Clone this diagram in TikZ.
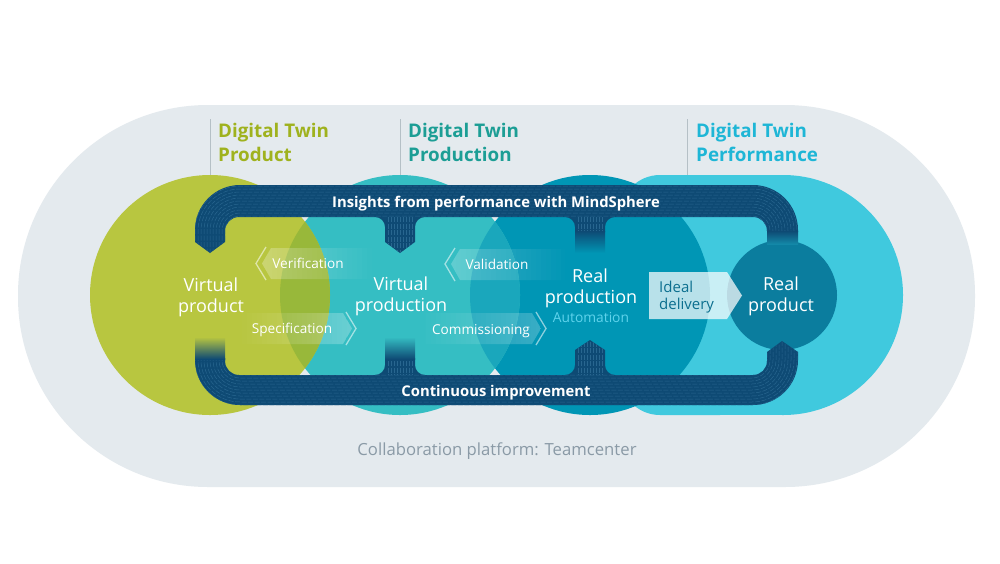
\documentclass[tikz,border=0pt]{standalone}
\usepackage{fontspec}
\setmainfont{Open Sans}
\definecolor{bgstad}{HTML}{E4EAEE}
\definecolor{cgreen}{HTML}{B8C640}
\definecolor{cgreenlens}{HTML}{98B83A}
\definecolor{cteal}{HTML}{35BEC3}
\definecolor{ctealens}{HTML}{1AA7BC}
\definecolor{crealprod}{HTML}{0096B5}
\definecolor{cperf}{HTML}{40C9DE}
\definecolor{crealproduct}{HTML}{0B7D9E}
\definecolor{cnavy}{HTML}{0E4A74}
\definecolor{cnavyline}{HTML}{28668F}
\definecolor{tgreen}{HTML}{9FB21E}
\definecolor{tteal}{HTML}{1C9E95}
\definecolor{tcyan}{HTML}{1EB6D6}
\definecolor{cauto}{HTML}{5FD3EC}
\definecolor{cideal}{HTML}{0C6F8F}
\definecolor{cgreytext}{HTML}{8A9AA6}
\definecolor{cline}{HTML}{B5C0C6}
\tikzset{
  title/.style={anchor=base west, inner sep=0pt, font=\fontsize{18.8}{22}\selectfont\bfseries},
  bandlabel/.style={anchor=base, inner sep=0pt, text=white, font=\fontsize{14.8}{18}\selectfont\bfseries},
  bigwhite/.style={anchor=base, inner sep=0pt, text=white, font=\fontsize{18}{21}\selectfont},
  chevlabel/.style={anchor=base, inner sep=0pt, text=white, font=\fontsize{13.6}{16}\selectfont},
  chevline/.style={draw=white, draw opacity=0.55, line width=1.3pt},
  texture/.style={draw=cnavyline, line width=0.5pt, dash pattern=on 5pt off 1.5pt},
  titleline/.style={draw=cline, line width=1pt},
  disc/.style={circle, inner sep=0pt, minimum size=240pt}
}
\begin{document}
\begin{tikzpicture}[x=1pt,y=-1pt]
\useasboundingbox (0,0) rectangle (1000,563);
\fill[white] (0,0) rectangle (1000,563);
% background stadium
\fill[bgstad, rounded corners=190pt] (18,105) rectangle (975,487);
% title lines
\draw[titleline] (210,119) -- (210,176);
\draw[titleline] (400,119) -- (400,176);
\draw[titleline] (687,119) -- (687,176);
% performance shape
\fill[cperf, rounded corners=40pt] (620,175) rectangle (760,415);
\fill[cperf] (700,175) rectangle (783,415);
\node[disc, fill=cperf] (perfc) at (783,295) {};
% real production
\node[disc, fill=crealprod] (realprodc) at (590,295) {};
% virtual production
\node[disc, fill=cteal] (virtprodc) at (400,295) {};
\begin{scope}
  \clip (400,295) circle[radius=120pt];
  \fill[ctealens] (590,295) circle[radius=120pt];
\end{scope}
% virtual product
\node[disc, fill=cgreen] (virtc) at (210,295) {};
\begin{scope}
  \clip (210,295) circle[radius=120pt];
  \fill[cgreenlens] (400,295) circle[radius=120pt];
\end{scope}
% real product
\node[circle, fill=crealproduct, minimum size=110pt, inner sep=0pt] (realproductc) at (782,295) {};

% chevron bands
% Verification (left)
\begin{scope}
  \clip (262,263.5) -- (271,248) -- (372,248) -- (372,279) -- (271,279) -- cycle;
  \foreach \i in {0,...,21}{
    \pgfmathsetmacro\op{0.26*(1-\i/22)}
    \fill[white, fill opacity=\op] (262+\i*5,247) rectangle (267.2+\i*5,280);
  }
\end{scope}
\draw[chevline] (266,247) -- (256,263.5) -- (266,280);
% Specification (right)
\begin{scope}
  \clip (352,328.5) -- (343,313) -- (240,313) -- (240,344) -- (343,344) -- cycle;
  \foreach \i in {0,...,21}{
    \pgfmathsetmacro\op{0.26*(1-\i/22)}
    \fill[white, fill opacity=\op] (352-\i*5,312) rectangle (346.8-\i*5,345);
  }
\end{scope}
\draw[chevline] (346,312) -- (356,328.5) -- (346,345);
% Validation (left)
\begin{scope}
  \clip (451,264) -- (460,249) -- (565,249) -- (565,280) -- (460,280) -- cycle;
  \foreach \i in {0,...,22}{
    \pgfmathsetmacro\op{0.22*(1-\i/23)}
    \fill[white, fill opacity=\op] (451+\i*5,248) rectangle (456.2+\i*5,281);
  }
\end{scope}
\draw[chevline] (455,248) -- (445,264) -- (455,281);
% Commissioning (right)
\begin{scope}
  \clip (541,328.5) -- (532,313) -- (425,313) -- (425,344) -- (532,344) -- cycle;
  \foreach \i in {0,...,23}{
    \pgfmathsetmacro\op{0.22*(1-\i/24)}
    \fill[white, fill opacity=\op] (541-\i*5,312) rectangle (535.8-\i*5,345);
  }
\end{scope}
\draw[chevline] (536,312) -- (546,328.5) -- (536,345);

% Ideal delivery box
\fill[white, fill opacity=0.72] (649,272) -- (727,272) -- (742,295.5) -- (727,319) -- (649,319) -- cycle;

% top band
\def\topband{(210,253) -- (195,242) [rounded corners=45pt] -- (195,185) -- (798,185) [sharp corners] -- (798,232) -- (767,232) [rounded corners=14pt] -- (767,217) [rounded corners=10pt] -- (605,217) [sharp corners] -- (605,232) -- (575,232) [rounded corners=10pt] -- (575,217) -- (415,217) [sharp corners] -- (415,242) -- (400,253) -- (385,242) [rounded corners=10pt] -- (385,217) [rounded corners=14pt] -- (225,217) [sharp corners] -- (225,242) -- cycle}
\fill[cnavy] \topband;
\begin{scope}
  \clip \topband;
  \foreach \d in {-15,-12,...,15}{
    \pgfmathsetmacro\rr{30+\d}
    \draw[texture, rounded corners=\rr pt] (210-\d,260) -- (210-\d,201-\d) -- (782+\d,201-\d) -- (782+\d,260);
  }
  \foreach \x in {388,391,...,412}{ \draw[texture] (\x,217) -- (\x,255); }
  \foreach \x in {578,581,...,602}{ \draw[texture] (\x,217) -- (\x,255); }
\end{scope}
\shade[top color=cnavy, bottom color=crealprod] (575,231) rectangle (605,253);
\shade[top color=cnavy, bottom color=crealproduct!85!cperf] (767,231) rectangle (798,244);

% bottom band
\def\botband{(195,358) [rounded corners=45pt] -- (195,405) -- (798,405) [sharp corners] -- (798,352) -- (782,341) -- (767,352) [rounded corners=14pt] -- (767,375) [rounded corners=10pt] -- (605,375) [sharp corners] -- (605,350) -- (590,340) -- (575,350) [rounded corners=10pt] -- (575,375) -- (415,375) [sharp corners] -- (415,358) -- (385,358) [rounded corners=10pt] -- (385,375) [rounded corners=14pt] -- (225,375) [sharp corners] -- (225,358) -- cycle}
\fill[cnavy] \botband;
\begin{scope}
  \clip \botband;
  \foreach \d in {-15,-12,...,15}{
    \pgfmathsetmacro\rr{30+\d}
    \draw[texture, rounded corners=\rr pt] (210-\d,330) -- (210-\d,390+\d) -- (782+\d,390+\d) -- (782+\d,330);
  }
  \foreach \x in {388,391,...,412}{ \draw[texture] (\x,335) -- (\x,375); }
  \foreach \x in {578,581,...,602}{ \draw[texture] (\x,335) -- (\x,375); }
\end{scope}
\shade[top color=cgreen, bottom color=cnavy] (195,337) rectangle (225,359);
\shade[top color=cteal, bottom color=cnavy] (385,337) rectangle (415,359);

% titles
\node[title, text=tgreen] (t1a) at (218,137) {Digital Twin};
\node[title, text=tgreen] (t1b) at (218,161) {Product};
\node[title, text=tteal] (t2a) at (408,137) {Digital Twin};
\node[title, text=tteal] (t2b) at (408,161) {Production};
\node[title, text=tcyan] (t3a) at (696,137) {Digital Twin};
\node[title, text=tcyan] (t3b) at (696,161) {Performance};

% band labels
\node[bandlabel] (insights) at (496,207) {Insights from performance with MindSphere};
\node[bandlabel] (contimp) at (496,396) {Continuous improvement};

% circle labels
\node[bigwhite] (vp1) at (211,291) {Virtual};
\node[bigwhite] (vp2) at (211,312) {product};
\node[bigwhite] (vpr1) at (401,290) {Virtual};
\node[bigwhite] (vpr2) at (401,311) {production};
\node[bigwhite] (rp1) at (590,282) {Real};
\node[bigwhite] (rp2) at (591,303) {production};
\node[anchor=base, inner sep=0pt, text=cauto, font=\fontsize{13.8}{16}\selectfont] (auto) at (591,322) {Automation};
\node[bigwhite] (rpr1) at (781,290) {Real};
\node[bigwhite] (rpr2) at (781,311) {product};

% chevron labels
\node[chevlabel] (verif) at (308,268) {Verification};
\node[chevlabel] (spec) at (292,333) {Specification};
\node[chevlabel] (valid) at (497,269) {Validation};
\node[chevlabel] (comm) at (481,334) {Commissioning};

% ideal delivery
\node[anchor=base west, inner sep=0pt, text=cideal, font=\fontsize{15}{18}\selectfont] (ideal1) at (659,292) {Ideal};
\node[anchor=base west, inner sep=0pt, text=cideal, font=\fontsize{15}{18}\selectfont] (ideal2) at (659,309) {delivery};

% collaboration
\node[anchor=base, inner sep=0pt, text=cgreytext, font=\fontsize{16.7}{20}\selectfont] (collab) at (497,455) {Collaboration platform: Teamcenter};
\end{tikzpicture}
\end{document}
